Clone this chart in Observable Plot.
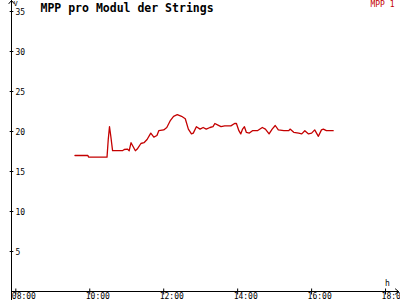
<!DOCTYPE html>
<html><head><meta charset="utf-8">
<script src="https://cdn.jsdelivr.net/npm/d3@7"></script>
<script src="https://cdn.jsdelivr.net/npm/@observablehq/plot@0.6"></script>
<style>body{margin:0;background:#fff}svg{display:block}</style>
</head><body><div id="chart"></div>
<script>
const title = "MPP pro Modul der Strings";
const seriesName = "MPP 1";
const yUnit = "V";
const xUnit = "h";
const times = ["09:36","09:57","09:58","10:28","10:30","10:32","10:34","10:37","10:53","10:56","11:01","11:04","11:07","11:14","11:17","11:23","11:28","11:33","11:39","11:44","11:49","11:52","12:00","12:05","12:11","12:16","12:22","12:29","12:35","12:40","12:45","12:48","12:53","12:59","13:04","13:09","13:15","13:20","13:23","13:28","13:33","13:39","13:49","13:55","13:58","14:02","14:05","14:08","14:11","14:14","14:19","14:24","14:32","14:40","14:45","14:51","14:56","15:01","15:06","15:15","15:23","15:25","15:31","15:39","15:44","15:49","15:55","16:00","16:05","16:11","16:16","16:19","16:24","16:35"];
const values = [17.0,17.0,16.8,16.8,19.0,20.6,19.5,17.6,17.6,17.75,17.8,17.6,18.6,17.6,17.8,18.5,18.6,19.0,19.8,19.3,19.5,20.1,20.2,20.5,21.4,21.9,22.1,21.9,21.6,20.3,19.7,19.8,20.6,20.3,20.5,20.3,20.5,20.6,21.0,20.8,20.6,20.7,20.7,21.0,21.0,20.1,19.7,20.3,20.6,19.9,19.8,20.1,20.1,20.5,20.3,19.7,20.3,20.75,20.2,20.1,20.1,20.3,19.9,19.8,19.7,20.1,19.7,19.8,20.2,19.4,20.2,20.3,20.1,20.1];
const xTickHours = [8,10,12,14,16,18];
const yTicks = [5,10,15,20,25,30,35];

const T = (h, m=0) => new Date(Date.UTC(2020,0,1,h,m));
const data = times.map((t,i) => { const [h,m] = t.split(":").map(Number); return {t: T(h,m), v: values[i]}; });
const xTicks = xTickHours.map(h => T(h));
const fmt = d3.utcFormat("%H:%M");
const x0 = T(7, 53.6), x1 = T(18, 21.6);
const xa = T(7, 50.4), xb = T(7, 56.8);
const red = "#c40000";
const font = "DejaVu Sans Mono, monospace";

const chart = Plot.plot({
  width: 400, height: 300,
  marginLeft: 11, marginRight: 2, marginTop: 0, marginBottom: 9,
  style: {fontFamily: font, background: "#fff"},
  x: {type: "utc", domain: [x0, x1], axis: null},
  y: {domain: [0, 36.375], axis: null},
  marks: [
    Plot.arrow([0], {x1: () => x0, y1: () => -1.125, x2: () => x0, y2: () => 36.375, stroke: "#000", strokeWidth: 1, headLength: 6, headAngle: 80, clip: false}),
    Plot.arrow([0], {x1: () => x0, y1: () => 0, x2: () => x1, y2: () => 0, stroke: "#000", strokeWidth: 1, headLength: 6, headAngle: 80, clip: false}),
    Plot.link(yTicks, {x1: () => xa, x2: () => xb, y1: d => d, y2: d => d, stroke: "#000", strokeWidth: 1}),
    Plot.link(xTicks, {x1: d => d, x2: d => d, y1: () => -0.375, y2: () => 0.375, stroke: "#000", strokeWidth: 1}),
    Plot.text(yTicks, {x: () => x0, y: d => d, text: d => String(d), textAnchor: "start", dx: 4, dy: 1, fontSize: 8, fill: "#000"}),
    Plot.text(xTicks, {x: d => d, y: () => 0, text: d => fmt(d), textAnchor: "start", dx: -4, dy: 2, lineAnchor: "top", fontSize: 8, fill: "#000"}),
    Plot.text([yUnit], {x: () => x0, y: () => 36.375, text: d => d, dx: 4, dy: 1, lineAnchor: "top", fontSize: 7, fill: "#000"}),
    Plot.text([xUnit], {x: () => x1, y: () => 0, text: d => d, dx: -11, dy: -6, lineAnchor: "bottom", fontSize: 8, fill: "#000"}),
    Plot.text([title], {frameAnchor: "top-left", text: d => d, dx: 29, dy: 3, lineAnchor: "top", fontSize: 11.5, fontWeight: "bold", fill: "#000"}),
    Plot.text([seriesName], {frameAnchor: "top-right", text: d => d, dx: -4, dy: 1, lineAnchor: "top", textAnchor: "end", fontSize: 8, fill: red}),
    Plot.line(data, {x: "t", y: "v", stroke: red, strokeWidth: 1.3})
  ]
});
document.getElementById("chart").append(chart);
</script></body></html>
